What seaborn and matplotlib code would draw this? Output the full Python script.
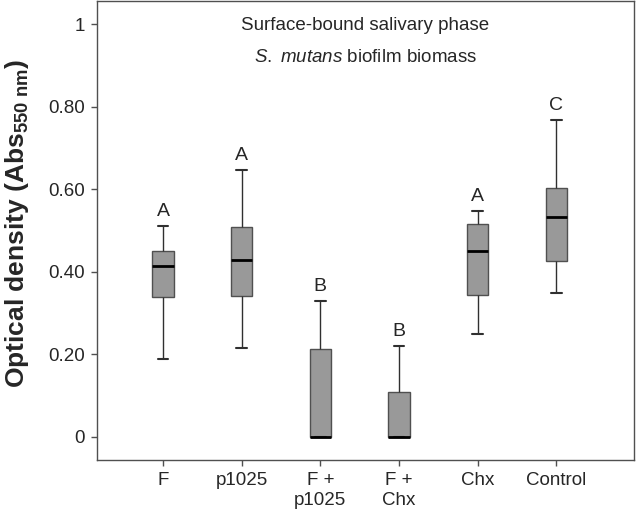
import numpy as np
import pandas as pd
import matplotlib
matplotlib.use("Agg")
import matplotlib.pyplot as plt
import seaborn as sns

# five-number summaries: [min, q1, median, q3, max]
groups = ["F", "p1025", "F +\np1025", "F +\nChx", "Chx", "Control"]
f_vals = [0.189, 0.339, 0.414, 0.450, 0.511]
p1025_vals = [0.215, 0.341, 0.428, 0.508, 0.646]
f_p1025_vals = [0.0, 0.0, 0.0, 0.213, 0.329]
f_chx_vals = [0.0, 0.0, 0.0, 0.109, 0.220]
chx_vals = [0.249, 0.344, 0.450, 0.516, 0.547]
control_vals = [0.349, 0.426, 0.533, 0.603, 0.768]
letters = ["A", "A", "B", "B", "A", "C"]
y_ticks = [0, 0.2, 0.4, 0.6, 0.8, 1.0]
y_ticklabels = ["0", "0.20", "0.40", "0.60", "0.80", "1"]

all_vals = [f_vals, p1025_vals, f_p1025_vals, f_chx_vals, chx_vals, control_vals]
df = pd.DataFrame({
    "group": np.repeat(groups, [len(v) for v in all_vals]),
    "od": np.concatenate(all_vals),
})

sns.set_style("white")
plt.rcParams["font.family"] = ["Liberation Sans", "DejaVu Sans"]
plt.rcParams["mathtext.fontset"] = "custom"
plt.rcParams["mathtext.rm"] = "Liberation Sans"
plt.rcParams["mathtext.it"] = "Liberation Sans:italic"
plt.rcParams["mathtext.bf"] = "Liberation Sans:bold"

fig = plt.figure(figsize=(6.36, 5.17), dpi=100)
ax = fig.add_axes([0.1525, 0.1103, 0.8445, 0.8887])

edge = "#505050"
sns.boxplot(
    data=df, x="group", y="od", order=groups, ax=ax,
    color="#999999", saturation=1, width=0.27, whis=(0, 100),
    linecolor=edge, linewidth=1,
    medianprops=dict(color="black", linewidth=2),
    whiskerprops=dict(color="#303030", linewidth=1),
    capprops=dict(color="#303030", linewidth=1.5),
)

# significance letters above each upper whisker
for i, (vals, lab) in enumerate(zip(all_vals, letters)):
    ax.text(i, max(vals) + 0.016, lab, ha="center", va="bottom", fontsize=14)

ax.set_xlim(-0.84, 5.99)
ax.set_ylim(-0.056, 1.058)
ax.set_yticks(y_ticks)
ax.set_yticklabels(y_ticklabels)
ax.set_xlabel("")
ax.set_ylabel(r"Optical density (Abs$_{\mathbf{550\ nm}}$)", fontsize=19,
              fontweight="bold")
ax.yaxis.set_label_coords(-0.122, 0.514)
ax.tick_params(axis="both", which="both", direction="out", length=4.5, width=1,
               color=edge, labelsize=13.5, left=True, bottom=True, pad=4)
for lbl in ax.get_xticklabels():
    lbl.set_linespacing(1.25)
for s in ax.spines.values():
    s.set_color(edge)
    s.set_linewidth(1)

ax.text(0.5, 0.946, "Surface-bound salivary phase", transform=ax.transAxes,
        ha="center", va="center", fontsize=13.5)
ax.text(0.5, 0.876, r"$\mathit{S.}$ $\mathit{mutans}$ biofilm biomass",
        transform=ax.transAxes, ha="center", va="center", fontsize=13.5)

fig.savefig("out.png", dpi=100)
